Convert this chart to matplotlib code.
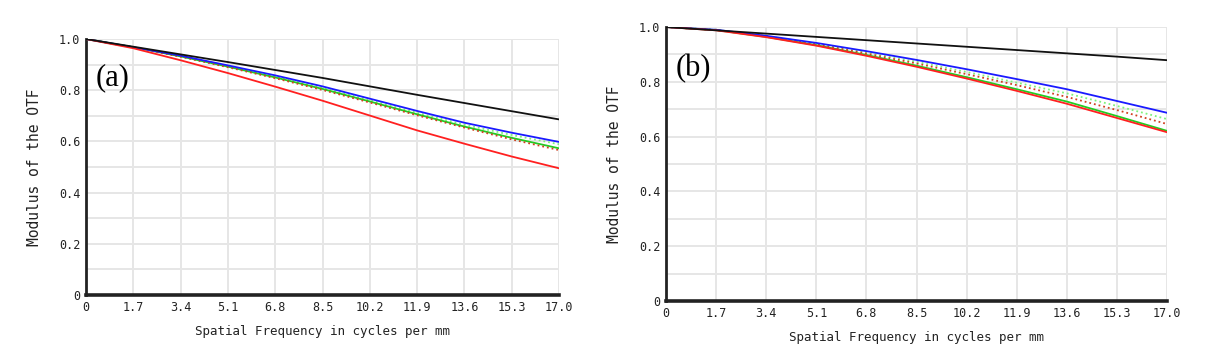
import matplotlib.pyplot as plt
import numpy as np

# spatial frequency (cycles/mm) sampled at the grid positions
freq = [0, 1.7, 3.4, 5.1, 6.8, 8.5, 10.2, 11.9, 13.6, 15.3, 17.0]
freq_labels = ['0', '1.7', '3.4', '5.1', '6.8', '8.5', '10.2', '11.9', '13.6', '15.3', '17.0']
mtf_ticks = [0, 0.2, 0.4, 0.6, 0.8, 1.0]
mtf_labels = ['0', '0.2', '0.4', '0.6', '0.8', '1.0']

# panel (a)
a_black = [1.0, 0.970, 0.940, 0.910, 0.879, 0.848, 0.815, 0.782, 0.750, 0.718, 0.686]
a_blue = [1.0, 0.968, 0.935, 0.897, 0.858, 0.815, 0.767, 0.719, 0.673, 0.634, 0.598]
a_green_dot = [1.0, 0.968, 0.933, 0.894, 0.853, 0.809, 0.761, 0.712, 0.665, 0.625, 0.589]
a_green = [1.0, 0.968, 0.932, 0.892, 0.850, 0.805, 0.756, 0.706, 0.658, 0.614, 0.573]
a_red_dot = [1.0, 0.967, 0.931, 0.890, 0.847, 0.801, 0.752, 0.702, 0.654, 0.608, 0.566]
a_red = [1.0, 0.964, 0.917, 0.867, 0.814, 0.759, 0.701, 0.643, 0.591, 0.541, 0.495]

# panel (b)
b_black = [1.0, 0.988, 0.976, 0.964, 0.952, 0.940, 0.928, 0.916, 0.904, 0.892, 0.879]
b_blue = [1.0, 0.990, 0.968, 0.942, 0.912, 0.880, 0.846, 0.810, 0.773, 0.730, 0.687]
b_green_dot = [1.0, 0.990, 0.967, 0.939, 0.907, 0.873, 0.836, 0.797, 0.758, 0.712, 0.664]
b_red_dot = [1.0, 0.989, 0.966, 0.937, 0.903, 0.867, 0.828, 0.788, 0.745, 0.697, 0.646]
b_green = [1.0, 0.989, 0.964, 0.934, 0.898, 0.859, 0.817, 0.773, 0.728, 0.675, 0.621]
b_red = [1.0, 0.988, 0.963, 0.932, 0.895, 0.855, 0.812, 0.767, 0.720, 0.668, 0.616]

mono = 'DejaVu Sans Mono'

fig = plt.figure(figsize=(12.3, 3.6), dpi=100)
ax_a = fig.add_axes([0.0699, 0.1806, 0.3846, 0.711])
ax_b = fig.add_axes([0.5415, 0.1639, 0.4073, 0.761])


def style(ax, tag):
    ax.set_xlim(0, 17)
    ax.set_ylim(0, 1.0)
    ax.set_xticks(freq)
    ax.set_xticklabels(freq_labels, family=mono, fontsize=8.5)
    ax.set_yticks(mtf_ticks)
    ax.set_yticklabels(mtf_labels, family=mono, fontsize=8.5)
    ax.set_yticks(np.arange(0, 1.01, 0.1), minor=True)
    ax.grid(True, which='both', color='#e6e6e6', lw=1.4)
    ax.tick_params(length=0, pad=4, colors='#222222')
    ax.tick_params(which='minor', length=0)
    ax.set_axisbelow(True)
    for s in ['top', 'right']:
        ax.spines[s].set_visible(False)
    ax.spines['left'].set_linewidth(2.0)
    ax.spines['bottom'].set_linewidth(2.6)
    ax.spines['left'].set_color('#222222')
    ax.spines['bottom'].set_color('#222222')
    ax.set_xlabel('Spatial Frequency in cycles per mm', family=mono, fontsize=9,
                  labelpad=8, color='#222222')
    ax.set_ylabel('Modulus of the OTF', family=mono, fontsize=10.5, labelpad=12,
                  color='#222222')
    ax.text(0.02, 0.85, tag, transform=ax.transAxes, family='Liberation Serif',
            fontsize=22, va='center', ha='left')


def curves(ax, black, blue, green_dot, green, red_dot, red):
    ax.plot(freq, black, color='#111111', lw=1.3, zorder=6)
    ax.plot(freq, blue, color='#1a1aff', lw=1.3, zorder=5)
    ax.plot(freq, green_dot, color='#7cf27c', lw=1.3, ls=':', zorder=4)
    ax.plot(freq, green, color='#22cc22', lw=1.3, zorder=4)
    ax.plot(freq, red_dot, color='#d04020', lw=1.3, ls=':', zorder=4)
    ax.plot(freq, red, color='#ff2020', lw=1.3, zorder=5)


curves(ax_a, a_black, a_blue, a_green_dot, a_green, a_red_dot, a_red)
curves(ax_b, b_black, b_blue, b_green_dot, b_green, b_red_dot, b_red)
style(ax_a, '(a)')
style(ax_b, '(b)')

plt.savefig('out.png', dpi=100)
plt.close('all')
